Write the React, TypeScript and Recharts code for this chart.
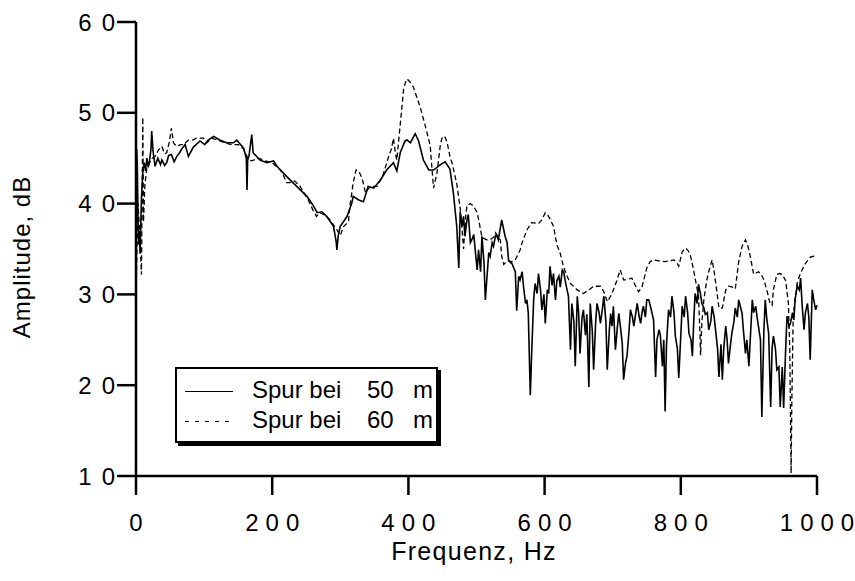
import { LineChart, Line, XAxis, YAxis, Legend } from "recharts"

const FONT = "'Liberation Sans', Arial, Helvetica, sans-serif"

// Spur bei 50 m (solid)
const freq50 = [
  0, 1, 2, 3, 4, 5, 6, 8, 10, 12,
  14, 16, 18, 20, 22, 23, 25, 28, 32, 36,
  38, 42, 45, 48, 52, 56, 60, 64, 67, 72,
  77, 84, 94, 101, 106, 114, 123, 133, 143, 148,
  158, 162, 163, 164, 166, 170, 172, 182, 192, 202,
  207, 221, 236, 251, 261, 266, 273, 280, 290, 294,
  295, 297, 300, 310, 317, 319, 327, 334, 341, 349,
  359, 368, 378, 383, 388, 395, 398, 403, 405, 410,
  415, 422, 430, 437, 447, 454, 461, 466, 471, 474,
  476, 479, 481, 483, 486, 488, 491, 493, 496, 499,
  501, 503, 506, 508, 511, 513, 515, 518, 520, 523,
  525, 528, 530, 532, 537, 542, 545, 547, 550, 552,
  557, 559, 562, 564, 567, 569, 572, 574, 576, 579,
  581, 584, 586, 589, 591, 594, 596, 599, 601, 604,
  606, 608, 611, 613, 616, 618, 621, 623, 626, 628,
  630, 633, 635, 638, 640, 643, 645, 648, 650, 652,
  655, 657, 660, 662, 665, 667, 670, 672, 675, 677,
  680, 682, 685, 687, 690, 692, 695, 697, 699, 701,
  704, 707, 709, 712, 714, 716, 719, 721, 724, 726,
  729, 731, 734, 736, 739, 741, 743, 745, 748, 750,
  753, 756, 760, 763, 765, 768, 770, 773, 775, 777,
  779, 782, 785, 787, 790, 792, 795, 797, 800, 802,
  805, 807, 810, 812, 815, 817, 819, 821, 824, 826,
  829, 831, 834, 836, 839, 841, 844, 846, 849, 851,
  854, 856, 859, 861, 863, 866, 868, 870, 873, 875,
  878, 880, 883, 885, 888, 890, 892, 895, 897, 900,
  903, 905, 907, 910, 912, 914, 917, 919, 922, 924,
  926, 929, 932, 934, 936, 939, 941, 944, 946, 949,
  951, 954, 956, 959, 961, 964, 966, 968, 971, 974,
  976, 978, 981, 983, 986, 988, 990, 993, 995, 998,
  1000,
]
const amp50 = [
  31, 46, 44, 38, 35.5, 37, 34.5, 40.5, 43.5, 44.5,
  43.6, 45, 44, 44.8, 46, 48, 45.8, 44.1, 45, 44.3,
  44.8, 44.2, 44.5, 45.3, 45.4, 44.6, 45.2, 45.6, 46, 46.5,
  45.2, 46.2, 46.9, 46.5, 47, 47.4, 47, 46.7, 46.7, 47,
  46.1, 45, 41.5, 44.8, 45.3, 47.6, 45.6, 44.8, 44.5, 44.7,
  44.1, 43, 41.9, 40.8, 39.7, 39, 39.1, 38.6, 37.5, 35.8,
  34.9, 36.5, 37.5, 38.6, 40.1, 40.8, 40.4, 40.2, 41.9, 41.7,
  42.6, 43.7, 44.5, 43.6, 45.6, 46.9, 47, 46.7, 47, 47.7,
  46.9, 44.8, 43.7, 43.7, 44.3, 44.6, 43.8, 41.2, 37.5, 32.9,
  39.1, 37.5, 38.6, 36.4, 38.2, 38.8, 35.7, 36, 36.6, 34.2,
  32.7, 34.9, 32.5, 36.4, 33.5, 29.4, 31.5, 34.6, 34.2, 35.7,
  35.3, 36.5, 36.4, 36, 38.2, 36.4, 35.7, 33.8, 33.5, 33.4,
  32.5, 28.2, 32, 31.6, 32.5, 30.9, 29, 29.4, 28, 18.9,
  23.5, 29.5, 31.2, 30.1, 32.3, 30.5, 28.3, 30, 26.8, 30.5,
  30.1, 33.1, 31, 32.3, 29.4, 31.5, 32, 30.8, 32.7, 32.5,
  31.6, 30.5, 29.8, 23.9, 29, 27, 22.1, 29.8, 28, 23.5,
  27.5, 28.3, 25.5, 27.8, 19.8, 29, 26, 21.7, 27, 29,
  28, 26.8, 28.5, 29.8, 27, 21.7, 26, 27.9, 26.5, 28.7,
  23.9, 26.5, 27.9, 26, 24.6, 20.6, 22.5, 23.2, 26, 28.3,
  27.5, 26.5, 28, 29, 27.5, 26.8, 28, 28.7, 27.5, 29.4,
  29.4, 28.5, 27.2, 20.9, 25, 26.1, 25.5, 22.1, 25, 17.1,
  24.5, 28.3, 27.5, 29.8, 28, 25.4, 24, 20.8, 25.5, 28.7,
  27.5, 29.8, 28, 25.7, 25, 23.2, 27, 30.1, 29, 31.1,
  30, 29, 28.5, 27.8, 28, 26.1, 27, 28.7, 27.5, 26.1,
  24, 20.9, 24.5, 20.6, 24, 26.5, 25, 22.4, 24.5, 25.7,
  27, 28.5, 27.5, 29.4, 28.5, 27.9, 26, 23.5, 25, 22.1,
  26.5, 29.4, 28, 28.7, 27.5, 26.5, 25, 16.5, 26, 29.4,
  27.5, 25.7, 17.6, 24, 25.4, 24, 21.7, 22, 17.6, 22,
  17.5, 24, 27.6, 26.5, 26.8, 28, 27.2, 29.5, 30.9, 30.5,
  31.8, 29, 26.1, 28, 29, 27.5, 22.8, 30.5, 29.5, 28.3,
  28.8,
]

// Spur bei 60 m (dashed)
const freq60 = [
  0, 3, 6, 8, 9, 10, 11, 13, 16, 20,
  24, 28, 33, 38, 42, 45, 49, 52, 55, 57,
  61, 65, 70, 77, 83, 89, 99, 104, 111, 120,
  130, 140, 150, 158, 163, 166, 170, 180, 190, 200,
  212, 216, 221, 226, 233, 241, 253, 261, 265, 270,
  278, 285, 295, 300, 305, 312, 314, 319, 323, 327,
  332, 337, 340, 344, 354, 363, 371, 375, 378, 381,
  383, 388, 393, 397, 400, 404, 407, 412, 417, 425,
  430, 432, 435, 437, 442, 447, 450, 454, 457, 461,
  464, 471, 476, 479, 481, 484, 486, 491, 496, 501,
  503, 508, 515, 520, 525, 528, 532, 535, 537, 540,
  545, 552, 557, 564, 567, 574, 581, 591, 596, 601,
  605, 608, 613, 618, 623, 628, 633, 638, 648, 657,
  665, 672, 682, 687, 692, 697, 701, 706, 711, 716,
  720, 728, 733, 738, 743, 750, 755, 760, 768, 777,
  783, 790, 794, 797, 802, 807, 811, 814, 818, 821,
  826, 828, 829, 831, 834, 838, 841, 846, 849, 853,
  856, 861, 866, 870, 876, 880, 885, 890, 895, 899,
  902, 907, 914, 918, 922, 927, 931, 934, 936, 941,
  945, 949, 954, 958, 960, 962, 963, 965, 966, 971,
  976, 983, 990, 995, 1000,
]
const amp60 = [
  30, 40, 36, 32.2, 41, 49.5, 38, 42, 44, 44.5,
  45, 45.2, 45.9, 46.3, 45.5, 45.6, 46.8, 48.3, 46.7, 46.5,
  46.3, 46.5, 46.5, 47, 47, 47.2, 47.2, 46.7, 47.2, 47,
  46.7, 46.5, 46.5, 46, 45.2, 44.8, 44.7, 45, 44.7, 44.5,
  43.7, 43.2, 42.3, 42.3, 42.5, 41.9, 40.4, 39.1, 38.6, 39,
  38.7, 38.2, 37.1, 36.5, 37.5, 38, 39.7, 42.3, 43.7, 43.6,
  42.8, 41.2, 41.5, 41.9, 41.9, 43.2, 45.2, 46, 47.2, 45.5,
  44.8, 48.7, 52.6, 53.7, 53.6, 53.2, 52.9, 51.8, 50.7, 48.5,
  47, 46.4, 43.5, 41.7, 43.4, 46.5, 47.4, 47.3, 46.7, 45.2,
  44.5, 42.2, 39.5, 37, 35, 38.5, 39.8, 40, 39.7, 39,
  38.3, 36.3, 36, 36, 36.3, 36.8, 36.3, 36, 34.2, 33.3,
  33.7, 33.6, 33.8, 34.9, 35.7, 37.1, 37.9, 37.8, 38.2, 39,
  38.7, 38.3, 37.5, 35.5, 34.5, 33, 32, 31.2, 30.5, 30.1,
  30.5, 30.9, 30.9, 30.3, 29.2, 29.8, 30.5, 31.5, 32.7, 31.6,
  31.6, 31.8, 31, 30.3, 30.8, 32.9, 33.6, 33.8, 33.7, 33.6,
  33.7, 33.8, 33.5, 33.1, 34.7, 35.1, 34.8, 34.3, 33, 31.8,
  29.8, 26, 23.3, 27, 29.5, 31.5, 32.5, 33.8, 32.5, 30.3,
  28.5, 28.5, 30.5, 30.9, 30.8, 30.6, 33.6, 35.3, 36, 35.2,
  34.2, 32.2, 32.5, 32.2, 31.6, 30.3, 29, 28.8, 30.5, 32.2,
  32.3, 32.2, 31.5, 29, 24, 10.3, 18, 27.5, 28.2, 31.3,
  32.4, 33.4, 34.1, 34.2, 34.2,
]

const seriesNames = ["Spur bei 50 m", "Spur bei 60 m"]
const xTicks = [0, 200, 400, 600, 800, 1000]
const yTicks = [10, 20, 30, 40, 50, 60]

type Row = { f: number; a50?: number; a60?: number }

function buildRows(): Row[] {
  const map = new Map<number, Row>()
  freq50.forEach((f, i) => {
    const r = map.get(f) ?? { f }
    r.a50 = amp50[i]
    map.set(f, r)
  })
  freq60.forEach((f, i) => {
    const r = map.get(f) ?? { f }
    r.a60 = amp60[i]
    map.set(f, r)
  })
  return [...map.values()].sort((a, b) => a.f - b.f)
}

const rows = buildRows()

// wide-set digits: gap between glyphs only, nothing after the last one
function spaced(value: string | number, gap: number) {
  return String(value)
    .split("")
    .map((ch, i) => (
      <tspan key={i} dx={i === 0 ? 0 : gap}>
        {ch}
      </tspan>
    ))
}

function XTick({ x, y, payload }: any) {
  return (
    <text x={x} y={y} dy="0.71em" textAnchor="middle" fontSize={24} fontFamily={FONT} fill="#000">
      {spaced(payload.value, 7)}
    </text>
  )
}

function YTick({ x, y, payload }: any) {
  return (
    <text x={x} y={y} dy="0.355em" dx={-6} textAnchor="end" fontSize={24} fontFamily={FONT} fill="#000">
      {spaced(payload.value, 10)}
    </text>
  )
}

function XTitle() {
  return (
    <text x={474} y={560} textAnchor="middle" fontSize={25} fontFamily={FONT} fill="#000" style={{ letterSpacing: 1.3 }}>
      Frequenz, Hz
    </text>
  )
}

function YTitle() {
  return (
    <text x={30} y={257} transform="rotate(-90 30 257)" textAnchor="middle" fontSize={24} fontFamily={FONT} fill="#000" style={{ letterSpacing: 1 }}>
      Amplitude, dB
    </text>
  )
}

function LegendLabel({ y, name }: { y: number; name: string }) {
  // "Spur bei" | "50" | "m" sit on the original's wide tab stops
  const parts = name.split(" ")
  return (
    <text y={y} fontSize={24} fontFamily={FONT} fill="#000">
      <tspan x={77}>{parts.slice(0, 2).join(" ") + " "}</tspan>
      <tspan x={192}>{parts[2] + " "}</tspan>
      <tspan x={238}>{parts[3]}</tspan>
    </text>
  )
}

function LegendBox() {
  return (
    <div style={{ width: 263, height: 76, border: "2px solid #000", boxShadow: "3px 3px 0 #000", background: "#fff", boxSizing: "border-box", position: "relative" }}>
      <svg width={263} height={76} style={{ position: "absolute", left: -2, top: -2 }}>
        <line x1={10} x2={58} y1={24.5} y2={24.5} stroke="#000" strokeWidth={1.2} />
        <LegendLabel y={31} name={seriesNames[0]} />
        <line x1={10} x2={58} y1={54.5} y2={54.5} stroke="#000" strokeWidth={1.2} strokeDasharray="4 6" />
        <LegendLabel y={61} name={seriesNames[1]} />
      </svg>
    </div>
  )
}

export default function App() {
  const axisStroke = { stroke: "#000", strokeWidth: 2.5 }
  return (
    <div style={{ position: "absolute", left: 0, top: 0, background: "#fff" }}>
      <LineChart width={855} height={581} data={rows} margin={{ top: 22, right: 38, left: 0, bottom: 45 }}>
        <XAxis
          dataKey="f"
          type="number"
          domain={[0, 1000]}
          ticks={xTicks}
          tickSize={19}
          tickMargin={19}
          height={60}
          axisLine={axisStroke}
          tickLine={axisStroke}
          tick={<XTick />}
          label={<XTitle />}
        />
        <YAxis
          type="number"
          domain={[10, 60]}
          ticks={yTicks}
          tickSize={19}
          tickMargin={2}
          width={136}
          axisLine={axisStroke}
          tickLine={axisStroke}
          tick={<YTick />}
          label={<YTitle />}
        />
        <Legend
          layout="vertical"
          align="center"
          verticalAlign="middle"
          content={() => <LegendBox />}
          wrapperStyle={{ left: 175, top: 367, width: 266, height: 79 }}
        />
        <Line
          type="linear"
          dataKey="a50"
          name={seriesNames[0]}
          stroke="#000"
          strokeWidth={1.6}
          dot={false}
          connectNulls
          isAnimationActive={false}
        />
        <Line
          type="linear"
          dataKey="a60"
          name={seriesNames[1]}
          stroke="#000"
          strokeWidth={1.3}
          strokeDasharray="5 3"
          dot={false}
          connectNulls
          isAnimationActive={false}
        />
      </LineChart>
    </div>
  )
}
